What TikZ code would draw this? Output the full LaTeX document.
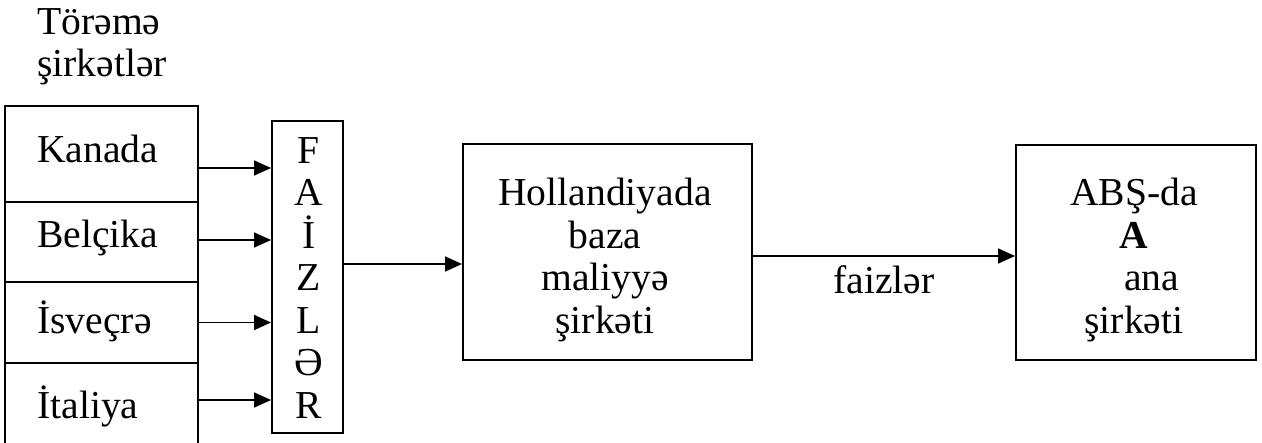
\documentclass[tikz,border=0pt]{standalone}
\usepackage{fontspec}
\setmainfont{Liberation Serif}
\usetikzlibrary{arrows.meta}
\tikzset{>={Triangle[width=7.5pt,length=8.5pt]}}

\begin{document}
\begin{tikzpicture}[x=0.5pt, y=-0.5pt]

\tikzset{
  box/.style={draw, line width=1pt, inner sep=0pt},
  txt/.style={inner sep=0pt, font=\fontsize{19.8}{21.25}\selectfont},
  link/.style={->, line width=0.85pt}
}

\path[use as bounding box, clip] (0,0) rectangle (1262,443);

%% subsidiaries (base = last line)
\node[txt, anchor=base west, align=left] (subs) at (37,77) {Törəmə\\şirkətlər};

\node[box, minimum width=96.5pt, minimum height=48pt] (kanada) at (101.5,154) {};
\node[box, minimum width=96.5pt, minimum height=40pt] (belcika) at (101.5,242) {};
\node[box, minimum width=96.5pt, minimum height=40.5pt] (isvecre) at (101.5,322.5) {};
\node[box, minimum width=96.5pt, minimum height=50pt] (italiya) at (101.5,413) {};

\node[txt, anchor=base west] (kanada-t) at (37,163) {Kanada};
\node[txt, anchor=base west] (belcika-t) at (37,248) {Belçika};
\node[txt, anchor=base west] (isvecre-t) at (37,333) {İsveçrə};
\node[txt, anchor=base west] (italiya-t) at (37,418) {İtaliya};

%% interest column
\node[box, minimum width=35.5pt, minimum height=156pt] (faiz) at (307.5,277) {};
\node[txt, anchor=base, align=center] (faiz-t) at (309,418) {F\\A\\İ\\Z\\L\\Ə\\R};

\coordinate (in1) at ([yshift=-7pt]kanada.east);
\coordinate (in2) at ([yshift=1pt]belcika.east);
\coordinate (in3) at (isvecre.east);
\coordinate (in4) at ([yshift=6.5pt]italiya.east);
\draw[link] (in1) -- (in1 -| faiz.west);
\draw[link] (in2) -- (in2 -| faiz.west);
\draw[link] (in3) -- (in3 -| faiz.west);
\draw[link] (in4) -- (in4 -| faiz.west);

%% finance company
\node[box, minimum width=144.5pt, minimum height=108pt] (holland) at (607.5,252) {};
\node[txt, anchor=base, align=center] (holland-t) at (605,333)
{Hollandiyada\\baza\\maliyyə\\şirkəti};

\coordinate (out1) at ([yshift=6.5pt]faiz.east);
\draw[link] (out1) -- (out1 -| holland.west);

%% parent company
\node[box, minimum width=120pt, minimum height=107.5pt] (abs) at (1136,252.5) {};
\node[txt, anchor=base, align=center] (abs-t) at (1134,333)
{ABŞ-da\\\textbf{A}\\\hspace*{0.9em}ana\\şirkəti};

\coordinate (out2) at ([yshift=-2pt]holland.east);
\draw[link] (out2) -- node[txt, midway, below=4.5pt] (faizler) {faizlər} (out2 -| abs.west);

\end{tikzpicture}
\end{document}
